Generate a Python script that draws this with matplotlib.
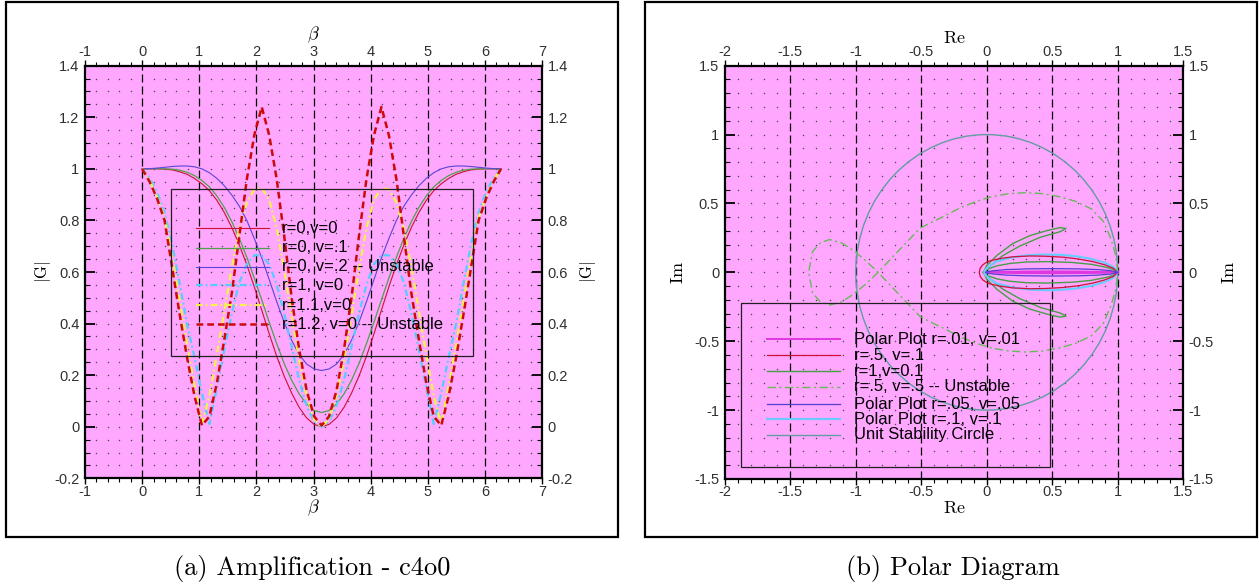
import numpy as np
import matplotlib
matplotlib.use("Agg")
import matplotlib.pyplot as plt
from matplotlib.lines import Line2D
from matplotlib.patches import Rectangle, Circle
from matplotlib.ticker import MultipleLocator

plt.rcParams['mathtext.fontset'] = 'cm'

# ---------------- (a) amplification factor |G| versus beta ----------------
beta = [0.000, 0.131, 0.262, 0.393, 0.524, 0.654, 0.785, 0.916, 1.047, 1.178,
        1.309, 1.440, 1.571, 1.702, 1.833, 1.963, 2.094, 2.225, 2.356, 2.487,
        2.618, 2.749, 2.880, 3.011, 3.142, 3.272, 3.403, 3.534, 3.665, 3.796,
        3.927, 4.058, 4.189, 4.320, 4.451, 4.581, 4.712, 4.843, 4.974, 5.105,
        5.236, 5.367, 5.498, 5.629, 5.760, 5.890, 6.021, 6.152, 6.283]

g_r0_v0 = [1.000, 1.000, 1.000, 0.999, 0.996, 0.989, 0.979, 0.963, 0.942, 0.915,
           0.878, 0.830, 0.772, 0.704, 0.628, 0.543, 0.452, 0.360, 0.273, 0.196,
           0.130, 0.075, 0.034, 0.009, 0.000, 0.009, 0.034, 0.075, 0.130, 0.196,
           0.273, 0.360, 0.452, 0.543, 0.628, 0.704, 0.772, 0.830, 0.878, 0.915,
           0.942, 0.963, 0.979, 0.989, 0.996, 0.999, 1.000, 1.000, 1.000]

g_r0_v01 = [1.000, 1.000, 1.001, 1.000, 0.999, 0.995, 0.987, 0.974, 0.955, 0.930,
            0.895, 0.850, 0.795, 0.730, 0.657, 0.577, 0.492, 0.405, 0.322, 0.245,
            0.180, 0.127, 0.088, 0.063, 0.055, 0.063, 0.088, 0.127, 0.180, 0.245,
            0.322, 0.405, 0.492, 0.577, 0.657, 0.730, 0.795, 0.850, 0.895, 0.930,
            0.955, 0.974, 0.987, 0.995, 0.999, 1.000, 1.001, 1.000, 1.000]

g_r0_v02 = [1.000, 1.001, 1.003, 1.006, 1.009, 1.011, 1.011, 1.008, 1.000, 0.985,
            0.963, 0.934, 0.898, 0.855, 0.800, 0.730, 0.655, 0.570, 0.485, 0.405,
            0.335, 0.280, 0.243, 0.224, 0.218, 0.224, 0.243, 0.280, 0.335, 0.405,
            0.485, 0.570, 0.655, 0.730, 0.800, 0.855, 0.898, 0.934, 0.963, 0.985,
            1.000, 1.008, 1.011, 1.011, 1.009, 1.006, 1.003, 1.001, 1.000]

g_r1_v0 = [1.000, 0.965, 0.910, 0.830, 0.710, 0.560, 0.400, 0.270, 0.130, 0.010,
           0.150, 0.300, 0.440, 0.560, 0.630, 0.665, 0.665, 0.630, 0.550, 0.440,
           0.310, 0.180, 0.080, 0.020, 0.000, 0.020, 0.080, 0.180, 0.310, 0.440,
           0.550, 0.630, 0.665, 0.665, 0.630, 0.560, 0.440, 0.300, 0.150, 0.010,
           0.130, 0.270, 0.400, 0.560, 0.710, 0.830, 0.910, 0.965, 1.000]

g_r11_v0 = [1.000, 0.955, 0.890, 0.810, 0.660, 0.490, 0.320, 0.160, 0.010, 0.120,
            0.280, 0.450, 0.620, 0.770, 0.870, 0.920, 0.925, 0.880, 0.770, 0.610,
            0.430, 0.260, 0.120, 0.030, 0.000, 0.030, 0.120, 0.260, 0.430, 0.610,
            0.770, 0.880, 0.925, 0.920, 0.870, 0.770, 0.620, 0.450, 0.280, 0.120,
            0.010, 0.160, 0.320, 0.490, 0.660, 0.810, 0.890, 0.955, 1.000]

g_r12_v0 = [1.000, 0.950, 0.885, 0.800, 0.620, 0.440, 0.270, 0.120, 0.005, 0.040,
            0.170, 0.340, 0.520, 0.740, 0.960, 1.130, 1.240, 1.130, 0.960, 0.740,
            0.500, 0.300, 0.140, 0.040, 0.005, 0.040, 0.140, 0.300, 0.500, 0.740,
            0.960, 1.130, 1.240, 1.130, 0.960, 0.740, 0.520, 0.340, 0.170, 0.040,
            0.005, 0.120, 0.270, 0.440, 0.620, 0.800, 0.885, 0.950, 1.000]

amp_labels = ["r=0,v=0", "r=0, v=.1", "r=0, v=.2 -- Unstable",
              "r=1, v=0", "r=1.1,v=0", "r=1.2, v=0 -- Unstable"]

beta_ticks = [-1, 0, 1, 2, 3, 4, 5, 6, 7]
beta_ticklabels = ["-1", "0", "1", "2", "3", "4", "5", "6", "7"]
g_ticks = [-0.2, 0.0, 0.2, 0.4, 0.6, 0.8, 1.0, 1.2, 1.4]
g_ticklabels = ["-0.2", "0", "0.2", "0.4", "0.6", "0.8", "1", "1.2", "1.4"]

# ---------------- (b) polar diagram: Re(G), Im(G) ----------------
re_r001 = [1.0, 0.9, 0.7, 0.5, 0.3, 0.1, 0.0, 0.1, 0.3, 0.5, 0.7, 0.9, 1.0]
im_r001 = [0.0, 0.003, 0.006, 0.007, 0.006, 0.003, 0.0,
           -0.003, -0.006, -0.007, -0.006, -0.003, 0.0]

re_r05_v01 = [1.0, 0.966, 0.90, 0.81, 0.70, 0.584, 0.45, 0.33, 0.20, 0.10, 0.03, 0.0,
              -0.03, -0.05, -0.057,
              -0.05, -0.03, 0.0, 0.03, 0.10, 0.20, 0.33, 0.45, 0.584, 0.70, 0.81,
              0.90, 0.966, 1.0]
im_r05_v01 = [0.0, 0.03, 0.055, 0.078, 0.097, 0.11, 0.117, 0.119, 0.113, 0.10, 0.085,
              0.074, 0.055, 0.03, 0.0,
              -0.03, -0.055, -0.074, -0.085, -0.10, -0.113, -0.119, -0.117, -0.11,
              -0.097, -0.078, -0.055, -0.03, 0.0]

re_r1_v01 = [1.0, 0.97, 0.92, 0.80, 0.65, 0.46, 0.30, 0.18, 0.08, 0.01, -0.02, 0.0,
             0.08, 0.20, 0.33, 0.46, 0.56, 0.605, 0.56, 0.41, 0.25, 0.12, 0.03, -0.03,
             0.03, 0.12, 0.25, 0.41, 0.56, 0.605, 0.56, 0.46, 0.33, 0.20, 0.08, 0.0,
             -0.02, 0.01, 0.08, 0.18, 0.30, 0.46, 0.65, 0.80, 0.92, 0.97, 1.0]
im_r1_v01 = [0.0, 0.02, 0.035, 0.058, 0.072, 0.078, 0.075, 0.065, 0.048, 0.025, 0.008,
             0.05, 0.125, 0.21, 0.267, 0.303, 0.325, 0.318, 0.295, 0.255, 0.19, 0.12,
             0.05, 0.0,
             -0.05, -0.12, -0.19, -0.255, -0.295, -0.318, -0.325, -0.303, -0.267,
             -0.21, -0.125, -0.05, -0.008, -0.025, -0.048, -0.065, -0.075, -0.078,
             -0.072, -0.058, -0.035, -0.02, 0.0]

re_r05_v05 = [1.0, 0.985, 0.95, 0.89, 0.80, 0.68, 0.55, 0.42, 0.29, 0.16, 0.04, -0.08,
              -0.20, -0.32, -0.43, -0.51, -0.60, -0.70, -0.83, -0.93, -1.02, -1.11,
              -1.20, -1.27, -1.33, -1.36,
              -1.33, -1.27, -1.20, -1.11, -1.02, -0.93, -0.83, -0.70, -0.60, -0.51,
              -0.43, -0.32, -0.20, -0.08, 0.04, 0.16, 0.29, 0.42, 0.55, 0.68, 0.80,
              0.89, 0.95, 0.985, 1.0]
im_r05_v05 = [0.0, 0.12, 0.24, 0.37, 0.46, 0.515, 0.55, 0.572, 0.578, 0.57, 0.55, 0.515,
              0.47, 0.41, 0.36, 0.32, 0.23, 0.13, 0.0, -0.09, -0.16, -0.215, -0.238,
              -0.215, -0.15, 0.0,
              0.15, 0.215, 0.238, 0.215, 0.16, 0.09, 0.0, -0.13, -0.23, -0.32, -0.36,
              -0.41, -0.47, -0.515, -0.55, -0.57, -0.578, -0.572, -0.55, -0.515,
              -0.46, -0.37, -0.24, -0.12, 0.0]

re_r005 = [1.0, 0.95, 0.85, 0.70, 0.50, 0.30, 0.15, 0.05, 0.0, -0.01,
           0.0, 0.05, 0.15, 0.30, 0.50, 0.70, 0.85, 0.95, 1.0]
im_r005 = [0.0, 0.012, 0.02, 0.025, 0.027, 0.025, 0.02, 0.012, 0.005, 0.0,
           -0.005, -0.012, -0.02, -0.025, -0.027, -0.025, -0.02, -0.012, 0.0]

re_r01 = [1.0, 0.966, 0.90, 0.81, 0.70, 0.584, 0.46, 0.33, 0.20, 0.076, 0.02, -0.01,
          -0.02, -0.01, 0.02, 0.076, 0.20, 0.33, 0.46, 0.584, 0.70, 0.81, 0.90,
          0.966, 1.0]
im_r01 = [0.0, 0.04, 0.07, 0.095, 0.115, 0.126, 0.13, 0.126, 0.11, 0.08, 0.045, 0.02,
          0.0, -0.02, -0.045, -0.08, -0.11, -0.126, -0.13, -0.126, -0.115, -0.095,
          -0.07, -0.04, 0.0]

unit_radius = 1.0

polar_labels = ["Polar Plot r=.01, v=.01", "r=.5, v=.1", "r=1,v=0.1",
                "r=.5, v=.5 -- Unstable", "Polar Plot r=.05, v=.05",
                "Polar Plot r=.1, v=.1", "Unit Stability Circle"]

re_ticks = [-2, -1.5, -1, -0.5, 0, 0.5, 1, 1.5]
re_ticklabels = ["-2", "-1.5", "-1", "-0.5", "0", "0.5", "1", "1.5"]
im_ticks = [-1.5, -1, -0.5, 0, 0.5, 1, 1.5]
im_ticklabels = ["-1.5", "-1", "-0.5", "0", "0.5", "1", "1.5"]

# ---------------- styling ----------------
PINK = '#ffa6ff'
TICKFAMILY = 'Liberation Sans'
TICKSIZE = 10.5
KEYFONT = 'Liberation Sans'
DASHDOT = (0, (3.0, 1.4, 0.8, 1.4))

amp_styles = [
    dict(color='#cc1133', lw=0.8, ls='-'),
    dict(color='#4ea04e', lw=0.9, ls='-'),
    dict(color='#5a46d6', lw=0.8, ls='-'),
    dict(color='#55ccff', lw=1.6, ls=DASHDOT),
    dict(color='#f6f24a', lw=1.6, ls=DASHDOT),
    dict(color='#cc0a0a', lw=1.8, ls=(0, (2.7, 1.6))),
]
polar_styles = [
    dict(color='#e038e0', lw=1.4, ls='-'),
    dict(color='#d0103a', lw=0.9, ls='-'),
    dict(color='#44a044', lw=1.0, ls='-'),
    dict(color='#66bb55', lw=1.0, ls=(0, (6, 2.5, 1.5, 2.5))),
    dict(color='#5040d0', lw=0.9, ls='-'),
    dict(color='#66ccff', lw=1.5, ls='-'),
    dict(color='#5f9ea0', lw=1.0, ls='-'),
]

fig = plt.figure(figsize=(12.59, 5.84), dpi=100)
W, H = 1259.0, 584.0


def style_axes(ax, xt, xtl, yt, ytl, xminor, yminor, xlim, ylim):
    ax.set_facecolor(PINK)
    ax.set_xlim(*xlim)
    ax.set_ylim(*ylim)
    ax.set_xticks(xt, xtl)
    ax.set_yticks(yt, ytl)
    ax.xaxis.set_minor_locator(MultipleLocator(xminor))
    ax.yaxis.set_minor_locator(MultipleLocator(yminor))
    ax.tick_params(axis='x', which='both', direction='out', top=True, bottom=True,
                   labeltop=True, labelbottom=True, colors='k', labelcolor='#303030')
    ax.tick_params(axis='x', which='major', length=4.3, width=1.0, pad=0.3)
    ax.tick_params(axis='x', which='minor', length=2.9, width=0.8)
    ax.tick_params(axis='y', which='both', direction='in', left=True, right=True,
                   labelleft=True, labelright=True, colors='k', labelcolor='#303030')
    ax.tick_params(axis='y', which='major', length=7, width=1.3, pad=4)
    ax.tick_params(axis='y', which='minor', length=3.6, width=0.8)
    for lab in ax.get_xticklabels() + ax.get_yticklabels():
        lab.set_fontfamily(TICKFAMILY)
        lab.set_fontsize(TICKSIZE)
    for sp in ax.spines.values():
        sp.set_linewidth(1.6)
        sp.set_color('k')
    # dashed major grid on x
    for v in xt[1:-1]:
        ax.axvline(v, color='k', lw=0.9, ls=(0, (6.4, 3.2)), zorder=1)
    # dotted lattice on the minor grid
    gx = np.arange(xlim[0], xlim[1] + 1e-9, xminor)
    gx = [v for v in gx if min(abs(v - t) for t in xt) > 1e-6]
    gy = np.arange(ylim[0], ylim[1] + 1e-9, yminor)
    X, Y = np.meshgrid(gx, gy)
    ax.scatter(X.ravel(), Y.ravel(), s=1.1, marker='o', c='#4a4a4a', lw=0,
               zorder=1, antialiased=True)


def draw_key(ax, box, rows, line_x, text_x, labels, styles, fsize):
    x0, y0, x1, y1 = box
    ax.add_patch(Rectangle((x0, y0), x1 - x0, y1 - y0, transform=ax.transAxes,
                           fill=False, ec='#202020', lw=0.9, zorder=6))
    for y, lab, st in zip(rows, labels, styles):
        ax.add_line(Line2D(line_x, [y, y], transform=ax.transAxes, zorder=7, **st))
        ax.text(text_x, y, lab, transform=ax.transAxes, ha='left', va='center',
                fontsize=fsize, family=KEYFONT, color='k', zorder=7)


# ---- panel (a)
axL = fig.add_axes([85 / W, 1 - 478.3 / H, 457 / W, 412.6 / H])
style_axes(axL, beta_ticks, beta_ticklabels, g_ticks, g_ticklabels, 0.2, 0.05,
           (-1, 7), (-0.2, 1.4))
amp_series = [g_r0_v0, g_r0_v01, g_r0_v02, g_r1_v0, g_r11_v0, g_r12_v0]
for g, st in zip(amp_series, amp_styles):
    axL.plot(beta, g, zorder=3, **st)
draw_key(axL, (0.188, 0.2964, 0.849, 0.700),
         [0.606, 0.559, 0.513, 0.468, 0.420, 0.373], [0.243, 0.403], 0.431,
         amp_labels, amp_styles, 12)
axL.text(0.5, 1.076, r'$\beta$', transform=axL.transAxes, ha='center', va='center', fontsize=13)
axL.text(0.5, -0.072, r'$\beta$', transform=axL.transAxes, ha='center', va='center', fontsize=13)
axL.text(-0.092, 0.5, r'$|\mathrm{G}|$', transform=axL.transAxes, ha='center', va='center',
         fontsize=12, rotation=90)
axL.text(1.100, 0.5, r'$|\mathrm{G}|$', transform=axL.transAxes, ha='center', va='center',
         fontsize=12, rotation=90)

# ---- panel (b)
axR = fig.add_axes([724.8 / W, 1 - 479 / H, 458.4 / W, 413.3 / H])
style_axes(axR, re_ticks, re_ticklabels, im_ticks, im_ticklabels, 0.1, 0.1,
           (-2, 1.5), (-1.5, 1.5))
axR.add_patch(Circle((0, 0), unit_radius, fill=False, ec=polar_styles[6]['color'],
                     lw=polar_styles[6]['lw'], zorder=3))
polar_series = [(re_r001, im_r001), (re_r05_v01, im_r05_v01), (re_r1_v01, im_r1_v01),
                (re_r05_v05, im_r05_v05), (re_r005, im_r005), (re_r01, im_r01)]
draw_order = [3, 2, 5, 1, 0, 4]
for i in draw_order:
    re_v, im_v = polar_series[i]
    axR.plot(re_v, im_v, zorder=3, **polar_styles[i])
draw_key(axR, (0.0351, 0.0298, 0.7094, 0.4266),
         [0.338, 0.300, 0.261, 0.2235, 0.181, 0.1445, 0.1065], [0.092, 0.2507], 0.2814,
         polar_labels, polar_styles, 12)
axR.text(0.5, 1.066, r'$\mathrm{Re}$', transform=axR.transAxes, ha='center', va='center', fontsize=13)
axR.text(0.5, -0.070, r'$\mathrm{Re}$', transform=axR.transAxes, ha='center', va='center', fontsize=13)
axR.text(-0.103, 0.5, r'$\mathrm{Im}$', transform=axR.transAxes, ha='center', va='center',
         fontsize=13, rotation=90)
axR.text(1.0995, 0.5, r'$\mathrm{Im}$', transform=axR.transAxes, ha='center', va='center',
         fontsize=13, rotation=90)

# panel frames and captions
for x0, x1 in ((6, 618), (645, 1257)):
    fig.add_artist(Rectangle((x0 / W, 1 - 537 / H), (x1 - x0) / W, 535 / H,
                             transform=fig.transFigure, fill=False, ec='k', lw=1.6))
fig.text(312 / W, 1 - 568 / H, "(a) Amplification - c4o0", ha='center', va='center',
         family='cmr10', fontsize=19)
fig.text(952.6 / W, 1 - 568 / H, "(b) Polar Diagram", ha='center', va='center',
         family='cmr10', fontsize=19)

fig.savefig('out.png', dpi=100, facecolor='white')
